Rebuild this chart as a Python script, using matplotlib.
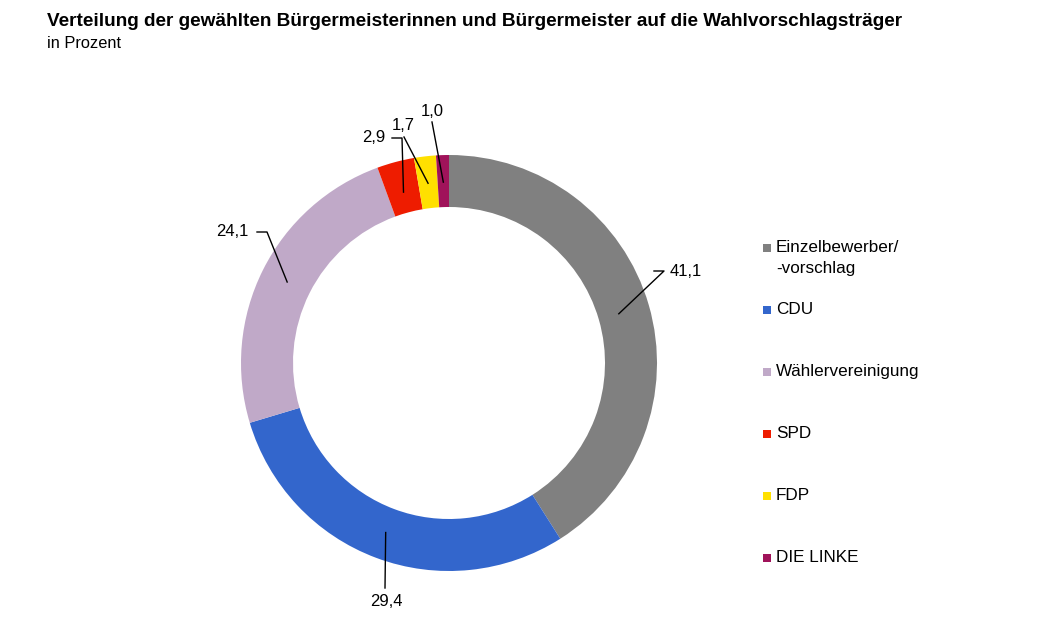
import numpy as np
import matplotlib
matplotlib.use("Agg")
import matplotlib.pyplot as plt
from matplotlib.patches import Rectangle

plt.rcParams['font.family'] = ['Liberation Sans', 'DejaVu Sans']

categories = ["Einzelbewerber/\n-vorschlag", "CDU", "Wählervereinigung", "SPD", "FDP", "DIE LINKE"]
values = [41.1, 29.4, 24.1, 2.9, 1.7, 1.0]
value_labels = ["41,1", "29,4", "24,1", "2,9", "1,7", "1,0"]
colors = ["#808080", "#3366CC", "#C0A9C8", "#EE1C00", "#FFE000", "#A0135A"]

W, H = 1048, 642
fig = plt.figure(figsize=(W / 100, H / 100), dpi=100)

cx, cy, R = 449, 363, 208
ax = fig.add_axes([(cx - R) / W, (H - cy - R) / H, 2 * R / W, 2 * R / H])

wedges, _ = ax.pie(values, colors=colors, startangle=90, counterclock=False,
                   radius=1, wedgeprops=dict(width=0.25, linewidth=0))
ax.set_xlim(-1, 1)
ax.set_ylim(-1, 1)
ax.set_aspect('equal')
ax.axis('off')

def px2d(x, y):
    return ((x - cx) / R, (cy - y) / R)

# label positions (pixel layout) and leader-line start / elbow points
label_pos = [(686, 272), (386, 602), (232, 232), (374, 137), (403, 125), (432, 111)]
starts_px = [(654, 271), (385, 588), (257, 232), (392, 138), (404, 137), (432, 122)]
elbows = [(664, 271), (385, 588), (267, 232), (402, 138), (404, 137), (432, 122)]
rmid = [0.85, 0.87, 0.87, 0.85, 0.87, 0.87]

for i, w in enumerate(wedges):
    ang = np.deg2rad((w.theta1 + w.theta2) / 2)
    ax_pt = (rmid[i] * np.cos(ang), rmid[i] * np.sin(ang))
    e = px2d(*elbows[i])
    s = px2d(*starts_px[i])
    ax.plot([s[0], e[0], ax_pt[0]], [s[1], e[1], ax_pt[1]], color='black', lw=1, clip_on=False)
    lp = px2d(*label_pos[i])
    ax.text(lp[0], lp[1], value_labels[i], ha='center', va='center', fontsize=12, clip_on=False)

# title
fig.text(47 / W, 1 - 22 / H, "Verteilung der gewählten Bürgermeisterinnen und Bürgermeister auf die Wahlvorschlagsträger",
         fontsize=13.7, fontweight='bold', ha='left', va='center')
fig.text(47 / W, 1 - 44 / H, "in Prozent", fontsize=11.8, ha='left', va='center')

# legend (manual)
leg_y = [248, 310, 372, 434, 496, 558]
for i, (lab, c) in enumerate(zip(categories, colors)):
    y = leg_y[i]
    fig.add_artist(Rectangle((763 / W, 1 - (y + 4) / H), 8 / W, 8 / H, transform=fig.transFigure,
                             facecolor=c, edgecolor='none'))
    for j, line in enumerate(lab.split("\n")):
        fig.text(776 / W, 1 - (y + 20 * j) / H, line, fontsize=12.3, ha='left', va='center')

fig.savefig("out.png", dpi=100)
